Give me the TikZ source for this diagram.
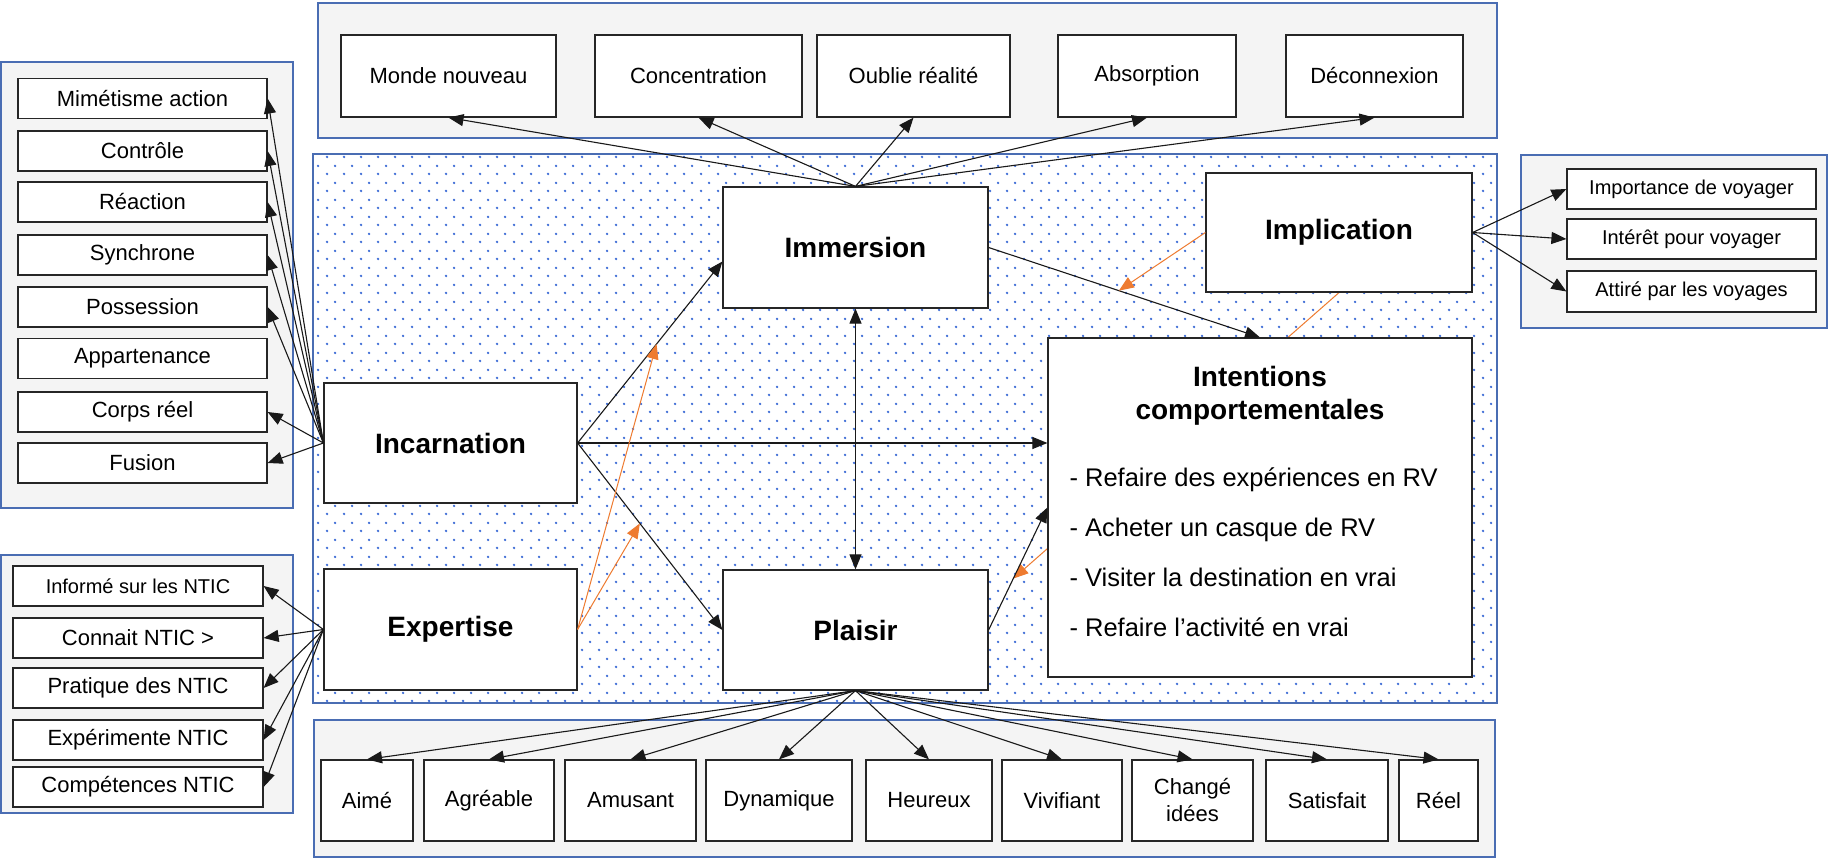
\documentclass[tikz,border=0pt]{standalone}
\usepackage{fontspec}
\setmainfont{Liberation Sans}
\usetikzlibrary{arrows.meta,patterns.meta}

\definecolor{frameblue}{HTML}{4A6DB3}
\definecolor{panelgray}{HTML}{F4F4F4}
\definecolor{dotblue}{HTML}{3B6BD6}
\definecolor{modorange}{HTML}{EE7B30}

\pgfdeclarelayer{back}
\pgfdeclarelayer{mid}
\pgfsetlayers{back,mid,main}

\tikzdeclarepattern{
  name=bluedots,
  type=uncolored,
  bounding box={(0pt,0pt) and (17pt,17pt)},
  tile size={(17pt,17pt)},
  code={
    \fill (4.25pt,4.25pt) circle [radius=1.35pt];
    \fill (12.75pt,12.75pt) circle [radius=1.35pt];
  }
}

\begin{document}
\begin{tikzpicture}[x=1pt,y=-1pt,>={Triangle[length=15pt,width=12pt]},
  panel/.style={draw=frameblue,line width=1.5pt,fill=panelgray},
  box/.style={draw=black!85,fill=white,line width=1.2pt,inner sep=0pt,align=center,font=\fontsize{22}{27}\selectfont},
  smallbox/.style={box,font=\fontsize{20}{24}\selectfont},
  leftbox/.style={box,minimum width=249pt,minimum height=40pt},
  topbox/.style={box,minimum height=82pt},
  bottombox/.style={box,minimum height=81pt},
  key/.style={box,font=\fontsize{28}{33}\selectfont\bfseries},
  link/.style={->,draw=black!90,line width=1.1pt},
  modlink/.style={->,draw=modorange,line width=1pt}]
            \useasboundingbox (0,0) rectangle (1829,858);
            % frames
            \begin{pgfonlayer}{back}
            \draw [panel] (318,3) rectangle (1497,138);
            \draw [panel] (1,62) rectangle (293,508);
            \draw [panel] (1,555) rectangle (293,813);
            \draw [panel] (1521,155) rectangle (1827,328);
            \draw [panel] (314,720) rectangle (1495,857);
            \draw [draw=frameblue,line width=1.5pt,fill=white,postaction={pattern=bluedots,pattern color=dotblue}] (313,154) rectangle (1497,703);
            \end{pgfonlayer}
            % central constructs
            \node [key,minimum width=253pt,minimum height=120pt] (incarnation) at (450.5,443) {Incarnation};
            \node [key,minimum width=253pt,minimum height=121pt] (expertise) at (450.5,629.5) {Expertise};
            \node [key,minimum width=265pt,minimum height=121pt] (immersion) at (855.5,247.5) {Immersion};
            \node [key,minimum width=265pt,minimum height=120pt] (plaisir) at (855.5,630) {Plaisir};
            \node [key,minimum width=266pt,minimum height=119pt] (implication) at (1339,232.5) {Implication};
            \node [box,minimum width=424pt,minimum height=339pt] (intentions) at (1260,507.5) {};
            \node [font=\fontsize{28}{33}\selectfont\bfseries,align=center] (inttitle) at (1260,396) {Intentions\\comportementales};
            \node [anchor=west,align=left,font=\fontsize{25.5}{50}\selectfont] (intitems) at (1066,552) {- Refaire des expériences en RV\\- Acheter un casque de RV\\- Visiter la destination en vrai\\- Refaire l'activité en vrai};
            % incarnation items
            \node [leftbox] (mimetisme) at (142.5,98.5) {Mimétisme action};
            \node [leftbox] (controle) at (142.5,151) {Contrôle};
            \node [leftbox] (reaction) at (142.5,202) {Réaction};
            \node [leftbox] (synchrone) at (142.5,255) {Synchrone};
            \node [leftbox] (possession) at (142.5,307) {Possession};
            \node [leftbox] (appartenance) at (142.5,358.5) {Appartenance};
            \node [leftbox] (corps) at (142.5,412) {Corps réel};
            \node [leftbox] (fusion) at (142.5,463) {Fusion};
            % expertise items
            \node [smallbox,minimum width=250pt,minimum height=40pt] (informe) at (138,586) {Informé sur les NTIC};
            \node [leftbox,minimum width=250pt] (connait) at (138,638) {Connait NTIC >};
            \node [leftbox,minimum width=250pt] (pratique) at (138,688) {Pratique des NTIC};
            \node [leftbox,minimum width=250pt] (experimente) at (138,740) {Expérimente NTIC};
            \node [leftbox,minimum width=250pt] (competences) at (138,787) {Compétences NTIC};
            % immersion items
            \node [topbox,minimum width=215pt] (monde) at (448.5,76) {Monde nouveau};
            \node [topbox,minimum width=207pt] (concentration) at (698.5,76) {Concentration};
            \node [topbox,minimum width=193pt] (oublie) at (913.5,76) {Oublie réalité};
            \node [topbox,minimum width=178pt] (absorption) at (1147,76) {Absorption};
            \node [topbox,minimum width=177pt] (deconnexion) at (1374.5,76) {Déconnexion};
            % implication items
            \node [smallbox,minimum width=249pt,minimum height=40pt] (importance) at (1691.5,189) {Importance de voyager};
            \node [smallbox,minimum width=249pt,minimum height=40pt] (interet) at (1691.5,239) {Intérêt pour voyager};
            \node [smallbox,minimum width=249pt,minimum height=41pt] (attire) at (1691.5,291.5) {Attiré par les voyages};
            % plaisir items
            \node [bottombox,minimum width=92pt] (aime) at (367,800.5) {Aimé};
            \node [bottombox,minimum width=130pt] (agreable) at (489,800.5) {Agréable};
            \node [bottombox,minimum width=131pt] (amusant) at (630.5,800.5) {Amusant};
            \node [bottombox,minimum width=146pt] (dynamique) at (779,800.5) {Dynamique};
            \node [bottombox,minimum width=126pt] (heureux) at (929,800.5) {Heureux};
            \node [bottombox,minimum width=120pt] (vivifiant) at (1062,800.5) {Vivifiant};
            \node [bottombox,minimum width=121pt] (change) at (1192.5,800.5) {Changé\\idées};
            \node [bottombox,minimum width=122pt] (satisfait) at (1327,800.5) {Satisfait};
            \node [bottombox,minimum width=79pt] (reel) at (1438.5,800.5) {Réel};
            % model paths
            \draw [link] (incarnation.east) -- coordinate[pos=0.545] (onimm) (immersion.186);
            \draw [link] (incarnation.east) -- coordinate[pos=0.43] (onpla) (plaisir.west);
            \draw [link] (incarnation.east) -- (incarnation.east -| intentions.west);
            \draw [link,<->] (immersion.south) -- (plaisir.north);
            \draw [link] (immersion.east) -- coordinate[pos=0.48] (onint) (intentions.north);
            \draw [link] (plaisir.east) -- coordinate[pos=0.42] (onpl2) (intentions.west);
            % moderators
            \draw [modlink] (expertise.east) -- (onimm);
            \draw [modlink] (expertise.east) -- (onpla);
            \draw [modlink] (implication.west) -- (onint);
            \begin{pgfonlayer}{mid}
            \draw [modlink] (implication.south) -- (onpl2);
            \end{pgfonlayer}
            % measures
            \draw [link] (incarnation.west) -- (mimetisme.east);
            \draw [link] (incarnation.west) -- (controle.east);
            \draw [link] (incarnation.west) -- (reaction.east);
            \draw [link] (incarnation.west) -- (synchrone.east);
            \draw [link] (incarnation.west) -- (possession.east);
            \draw [link] (incarnation.west) -- (corps.east);
            \draw [link] (incarnation.west) -- (fusion.east);
            \draw [link] (expertise.west) -- (informe.east);
            \draw [link] (expertise.west) -- (connait.east);
            \draw [link] (expertise.west) -- (pratique.east);
            \draw [link] (expertise.west) -- (experimente.east);
            \draw [link] (expertise.west) -- (competences.east);
            \draw [link] (immersion.north) -- (monde.south);
            \draw [link] (immersion.north) -- (concentration.south);
            \draw [link] (immersion.north) -- (oublie.south);
            \draw [link] (immersion.north) -- (absorption.south);
            \draw [link] (immersion.north) -- (deconnexion.south);
            \draw [link] (implication.east) -- (importance.west);
            \draw [link] (implication.east) -- (interet.west);
            \draw [link] (implication.east) -- (attire.west);
            \draw [link] (plaisir.south) -- (aime.north);
            \draw [link] (plaisir.south) -- (agreable.north);
            \draw [link] (plaisir.south) -- (amusant.north);
            \draw [link] (plaisir.south) -- (dynamique.north);
            \draw [link] (plaisir.south) -- (heureux.north);
            \draw [link] (plaisir.south) -- (vivifiant.north);
            \draw [link] (plaisir.south) -- (change.north);
            \draw [link] (plaisir.south) -- (satisfait.north);
            \draw [link] (plaisir.south) -- (reel.north);
        \end{tikzpicture}
\end{document}
